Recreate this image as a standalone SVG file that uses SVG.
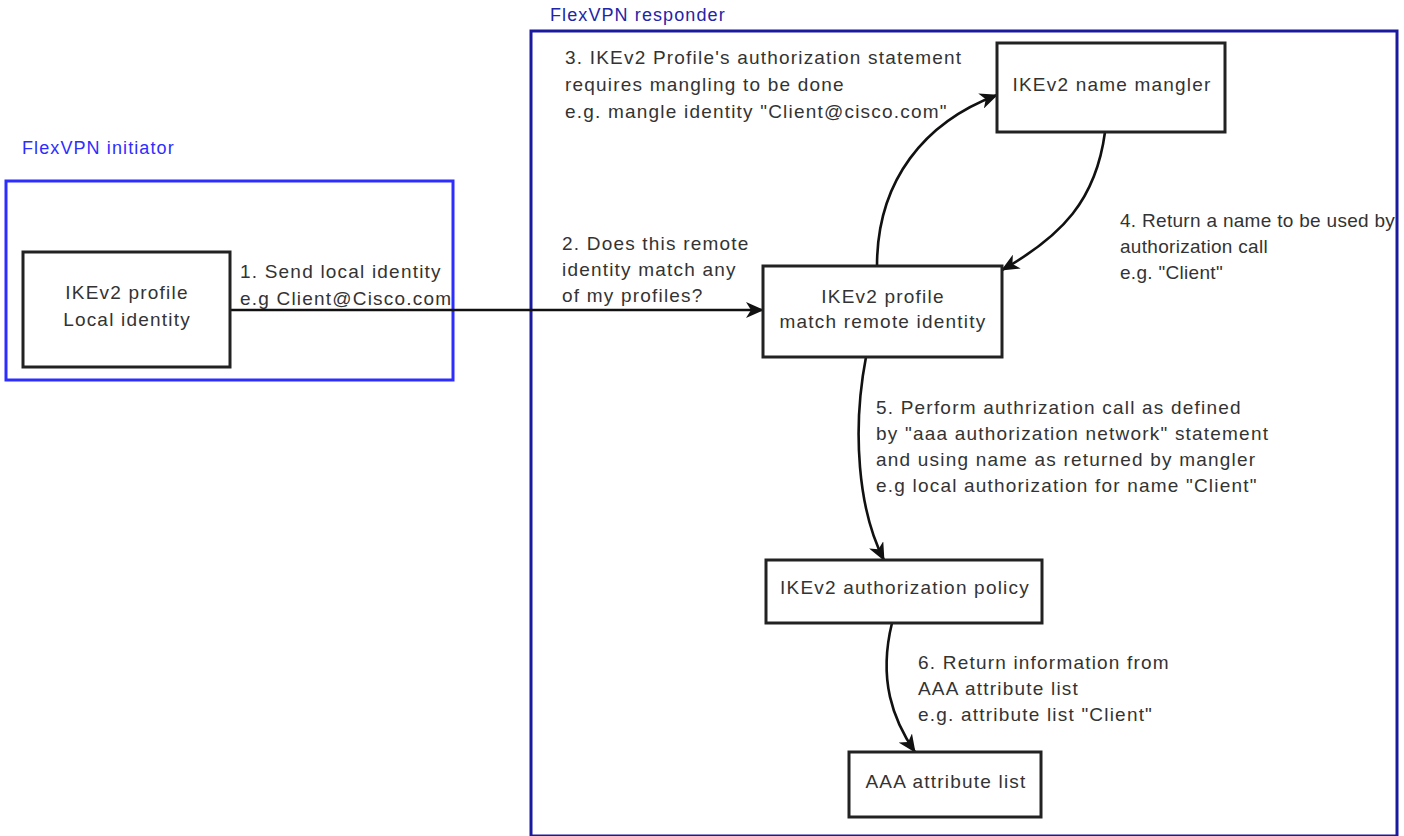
<svg xmlns="http://www.w3.org/2000/svg" width="1404" height="836" viewBox="0 0 1404 836">
<style>
.t{font-family:"Liberation Sans",Arial,sans-serif;font-size:19px;letter-spacing:1.2px;fill:#333}
.n{letter-spacing:0.3px}
.c{text-anchor:middle}
.grp{font-family:"Liberation Sans",Arial,sans-serif;font-size:18px;letter-spacing:1.1px}
.box{fill:#fff;stroke:#222;stroke-width:3}
.edge{fill:none;stroke:#111;stroke-width:2.6}
</style>
<defs>
<marker id="ah" markerUnits="userSpaceOnUse" markerWidth="20" markerHeight="16" refX="17" refY="8" orient="auto">
<path d="M0,0 L18,8 L0,16 L5,8 Z" fill="#111"/>
</marker>
</defs>
<rect width="1404" height="836" fill="#fff"/>
<g id="initiator">
<rect x="6" y="181" width="447" height="199" fill="none" stroke="#2d2dff" stroke-width="3"/>
<text class="grp" x="22" y="154" fill="#2d2dff">FlexVPN initiator</text>
</g>
<g id="responder">
<rect x="531" y="31" width="866" height="805" fill="none" stroke="#1a1a9e" stroke-width="3"/>
<text class="grp" x="550" y="21" fill="#2424a6">FlexVPN responder</text>
</g>
<g id="connectors">
<path class="edge" d="M230,310 L763,310" marker-end="url(#ah)"/>
<path class="edge" d="M877,266 C877,180 925,122 997,95" marker-end="url(#ah)"/>
<path class="edge" d="M1105,132 C1096,200 1062,236 1002,270" marker-end="url(#ah)"/>
<path class="edge" d="M866,357 C852,430 858,510 884,560" marker-end="url(#ah)"/>
<path class="edge" d="M892,623 C878,680 893,720 915,752" marker-end="url(#ah)"/>
</g>
<g id="labels">
<text class="t" x="240" y="278">1. Send local identity</text>
<text class="t" x="240" y="305">e.g Client@Cisco.com</text>
<text class="t" x="562" y="250">2. Does this remote</text>
<text class="t" x="562" y="276">identity match any</text>
<text class="t" x="562" y="302">of my profiles?</text>
<text class="t" x="565" y="64">3. IKEv2 Profile's authorization statement</text>
<text class="t" x="565" y="91">requires mangling to be done</text>
<text class="t" x="565" y="118">e.g. mangle identity "Client@cisco.com"</text>
<text class="t n" x="1120" y="227">4. Return a name to be used by</text>
<text class="t n" x="1120" y="253">authorization call</text>
<text class="t n" x="1120" y="279">e.g. "Client"</text>
<text class="t" x="876" y="414">5. Perform authrization call as defined</text>
<text class="t" x="876" y="440">by "aaa authorization network" statement</text>
<text class="t" x="876" y="466">and using name as returned by mangler</text>
<text class="t" x="876" y="492">e.g local authorization for name "Client"</text>
<text class="t" x="918" y="669">6. Return information from</text>
<text class="t" x="918" y="695">AAA attribute list</text>
<text class="t" x="918" y="721">e.g. attribute list "Client"</text>
</g>
<g id="node-local">
<rect class="box" x="23" y="252" width="207" height="115"/>
<text class="t c" x="127" y="299">IKEv2 profile</text>
<text class="t c" x="127" y="326">Local identity</text>
</g>
<g id="node-match">
<rect class="box" x="763" y="266" width="239" height="91"/>
<text class="t c" x="883" y="303">IKEv2 profile</text>
<text class="t c" x="883" y="328">match remote identity</text>
</g>
<g id="node-mangler">
<rect class="box" x="997" y="43" width="228" height="89"/>
<text class="t c" x="1112" y="91">IKEv2 name mangler</text>
</g>
<g id="node-policy">
<rect class="box" x="766" y="560" width="276" height="63"/>
<text class="t c" x="905" y="594">IKEv2 authorization policy</text>
</g>
<g id="node-aaa">
<rect class="box" x="849" y="752" width="192" height="65"/>
<text class="t c" x="946" y="788">AAA attribute list</text>
</g>
</svg>
